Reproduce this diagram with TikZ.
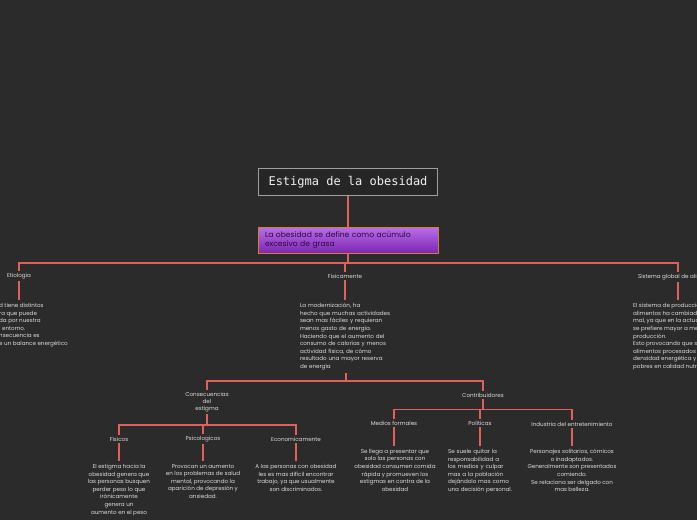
\documentclass[tikz,border=0pt]{standalone}
\usepackage{fontspec}
\setmainfont{Poppins}
\newfontfamily\pixfont{DejaVu Sans Mono}
\usepackage{tikz}
\definecolor{fondo}{HTML}{2B2B2B}
\definecolor{linea}{HTML}{E0605C}
\definecolor{texto}{HTML}{DDDDDD}
\definecolor{morado}{HTML}{9B30E0}
\definecolor{tinta}{HTML}{2A0A3C}

\begin{document}
\begin{tikzpicture}[x=1pt, y=-1pt,
    link/.style={linea, line width=1.2pt},
    lbl/.style={text=texto, font=\fontsize{5.6}{7}\selectfont, inner sep=2pt, align=center},
    txt/.style={text=texto, font=\fontsize{5.6}{7.6}\selectfont, inner sep=3pt, anchor=north, align=center},
    titlebox/.style={draw=gray!75, line width=1.3pt, fill=black!85, minimum width=179pt, minimum height=27pt,
        text=white!88!gray, font=\pixfont\fontsize{12}{14}\selectfont},
    defbox/.style={draw=brown!70!orange, line width=0.6pt, top color=morado!70!white, bottom color=morado!80!black,
        minimum width=180pt, minimum height=26pt, text width=166pt, align=left, text=tinta,
        font=\fontsize{7.6}{9}\selectfont}]
            % Background and frame
            \fill[fondo] (0,0) rectangle (697,520);
            \clip (0,0) rectangle (697,520);

            % Title and definition
            \node[titlebox] (titulo) at (348,182) {Estigma de la obesidad};
            \node[defbox] (def) at (348,240) {La obesidad se define como acúmulo\\excesivo de grasa};

            % First level
            \node[lbl] (etio) at (19,276) {Etiologia};
            \node[lbl] (fis) at (345,276) {Fisicamente};
            \node[lbl] (sis) at (678,277) {Sistema global de alimentos};

            \node[txt, anchor=north west, align=left] (etioTxt) at (-4,300) {d tiene distintos\\ra que puede\\da por nuestra\\l entorno.\\nsecuencia es\\e un balance energético};
            \node[txt, text width=92pt, align=left] (fisTxt) at (346,300) {La modernización, ha\\hecho que muchas actividades\\sean mas fáciles y requieran\\menos gasto de energía.\\Haciendo que el aumento del\\consumo de calorías y menos\\actividad física, de cómo\\resultado una mayor reserva\\de energía};
            \node[txt, anchor=north west, align=left] (sisTxt) at (630,300) {El sistema de producción de\\alimentos ha cambiado\\mal, ya que en la actualidad\\se prefiere mayor a menor\\producción.\\Esto provocando que se\\alimentos procesados con\\densidad energética y\\pobres en calidad nutricional.};

            % Second level
            \node[lbl] (cons) at (207,402) {Consecuencias\\del\\estigma};
            \node[lbl] (contr) at (483,395) {Contribuidores};

            % Consequences
            \node[lbl] (fisicos) at (119,439) {Físicos};
            \node[lbl] (psico) at (203,439) {Psicologicos};
            \node[lbl] (econ) at (296,439) {Economicamente};

            \node[txt] (fisicosTxt) at (119,461) {El estigma hacia la\\obesidad genera que\\las personas busquen\\perder peso lo que\\irónicamente\\genera un\\aumento en el peso};
            \node[txt] (psicoTxt) at (203,461) {Provocan un aumento\\en los problemas de salud\\mental, provocando la\\aparición de depresión y\\ansiedad.};
            \node[txt] (econTxt) at (296,461) {A las personas con obesidad\\les es mas difícil encontrar\\trabajo, ya que usualmente\\son discriminados.};

            % Contributors
            \node[lbl] (medios) at (394,423) {Medios formales};
            \node[lbl] (polit) at (480,423) {Políticas};
            \node[lbl] (indus) at (572,424) {Industria del entretenimiento};

            \node[txt] (mediosTxt) at (395,446) {Se llega a presentar que\\solo las personas con\\obesidad consumen comida\\rápida y promueven los\\estigmas en contra de la\\obesidad};
            \node[txt, text width=66pt, align=left] (politTxt) at (481,446) {Se suele quitar la\\responsabilidad a\\los medios y culpar\\mas a la población\\dejándolo mas como\\una decisión personal.};
            \node[txt] (indusTxt) at (572,446) {Personajes solitarios, cómicos\\o inadaptados.\\Generalmente son presentados\\comiendo.\\Se relaciona ser delgado con\\mas belleza.};

            % Connectors
            \coordinate (barra1) at (348,263);
            \coordinate (barra2) at (346,381);
            \coordinate (barra3) at (207,425);
            \coordinate (barra4) at (483,409.5);

            \draw[link] (titulo.south) -- (def.north);
            \draw[link] (def.south) -- (barra1);
            \draw[link] (etio.north) |- (barra1) -| (sis.north);
            \draw[link] (barra1) -| (fis.north);

            \draw[link] (fisTxt.south) -- (barra2);
            \draw[link] (cons.north) |- (barra2) -| (contr.north);

            \draw[link] (cons.south) -- (cons.south |- barra3);
            \draw[link] (fisicos.north) |- (barra3) -| (econ.north);
            \draw[link] (barra3 -| psico.north) -- (psico.north);

            \draw[link] (contr.south) -- (contr.south |- barra4);
            \draw[link] (medios.north) |- (barra4) -| (indus.north);
            \draw[link] (barra4 -| polit.north) -- (polit.north);

            \foreach \a/\b in {etio/etioTxt, fis/fisTxt, sis/sisTxt, fisicos/fisicosTxt, psico/psicoTxt,
                econ/econTxt, medios/mediosTxt, polit/politTxt, indus/indusTxt}
                \draw[link] (\a.south) -- (\a.south |- \b.north);
        \end{tikzpicture}
\end{document}
